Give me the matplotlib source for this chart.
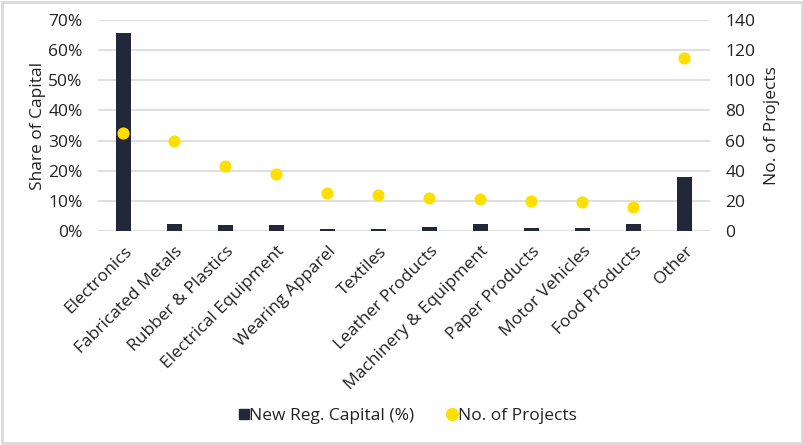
import matplotlib
matplotlib.use("Agg")
import matplotlib.pyplot as plt
from matplotlib.patches import Rectangle
from matplotlib.ticker import PercentFormatter
import numpy as np

# Данные
categories = ["Electronics", "Fabricated Metals", "Rubber & Plastics",
              "Electrical Equipment", "Wearing Apparel", "Textiles",
              "Leather Products", "Machinery & Equipment", "Paper Products",
              "Motor Vehicles", "Food Products", "Other"]
capital_share = [65.7, 2.3, 2.0, 2.0, 0.8, 0.8, 1.3, 2.2, 1.0, 1.0, 2.4, 17.8]
num_projects = [65, 60, 43, 38, 25, 24, 22, 21, 20, 19, 16, 115]

BAR_COLOR = "#23273a"
DOT_COLOR = "#ffdf00"
GRID_COLOR = "#d9d9d9"
TEXT_COLOR = "#222222"
FS = 12.5

plt.rcParams['font.family'] = ['Open Sans', 'DejaVu Sans']
plt.rcParams['font.size'] = FS

fig = plt.figure(figsize=(8.04, 4.45), dpi=100)
ax = fig.add_axes([98 / 804, 1 - 231 / 445, (710 - 98) / 804, (231 - 20) / 445])
ax2 = ax.twinx()

x = np.arange(len(categories))
ax.bar(x, capital_share, width=0.31, color=BAR_COLOR, zorder=3)
ax2.scatter(x, num_projects, s=60, color=DOT_COLOR, zorder=4)

ax.set_xlim(-0.5, len(categories) - 0.5)
ax.set_ylim(0, 70)
ax2.set_ylim(0, 140)
ax.set_yticks(np.arange(0, 71, 10))
ax2.set_yticks(np.arange(0, 141, 20))
ax.yaxis.set_major_formatter(PercentFormatter(decimals=0))

ax.grid(axis='y', color=GRID_COLOR, linewidth=1.2, zorder=0)
ax.set_axisbelow(True)
for a in (ax, ax2):
    for side in ("top", "left", "right", "bottom"):
        a.spines[side].set_visible(False)
    a.tick_params(length=0, colors=TEXT_COLOR, labelsize=FS)
ax.tick_params(axis='y', pad=11)
ax2.tick_params(axis='y', pad=11)
ax2.set_zorder(ax.get_zorder() + 1)
ax2.patch.set_visible(False)

ax.set_xticks(x)
ax.set_xticklabels(categories, rotation=45, ha='right', rotation_mode='anchor')
ax.tick_params(axis='x', pad=9)
ax.set_ylabel("Share of Capital", color=TEXT_COLOR, fontsize=FS, labelpad=2)
ax2.set_ylabel("No. of Projects", color=TEXT_COLOR, fontsize=FS, labelpad=6)

# Легенда
h1 = plt.Line2D([], [], marker='s', linestyle='', color=BAR_COLOR, markersize=7)
h2 = plt.Line2D([], [], marker='o', linestyle='', color=DOT_COLOR, markersize=8.5)
fig.legend([h1, h2], ["New Reg. Capital (%)", "No. of Projects"],
           loc='center', bbox_to_anchor=(405 / 804, 1 - 416 / 445), ncol=2,
           frameon=False, fontsize=FS, handletextpad=-0.3, columnspacing=1.6,
           handlelength=1.2, labelcolor=TEXT_COLOR)

# Рамка
fig.patches.append(Rectangle((0.002, 0.004), 0.996, 0.992, transform=fig.transFigure,
                             fill=False, edgecolor="#d9d9d9", linewidth=2))

fig.savefig("out.png", dpi=100, facecolor="white")
